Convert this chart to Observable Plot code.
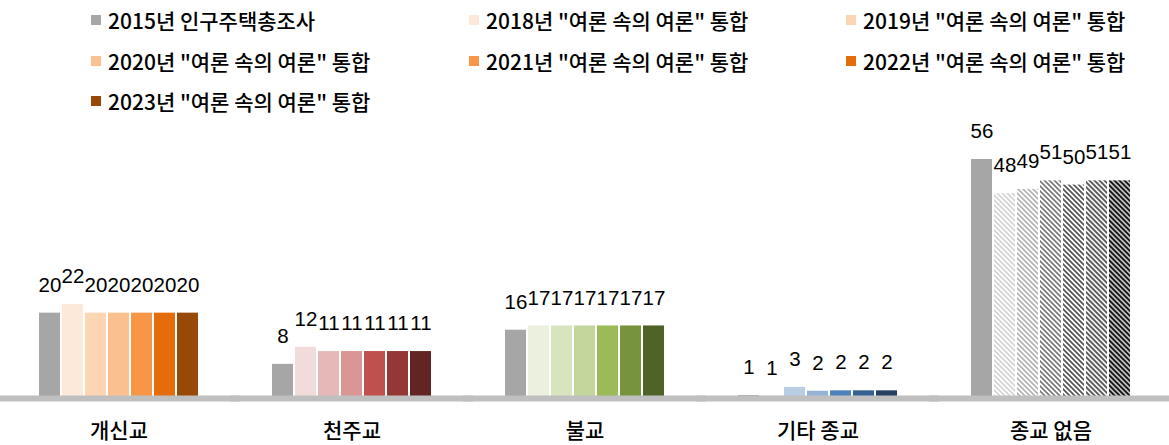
<!DOCTYPE html>
<html><head><meta charset="utf-8">
<script src="https://cdn.jsdelivr.net/npm/d3@7"></script>
<script src="https://cdn.jsdelivr.net/npm/@observablehq/plot@0.6"></script>
<style>
body{margin:0;background:#fff;font-family:"Noto Sans CJK KR","Noto Sans",sans-serif;}
#legend{display:grid;grid-template-columns:378px 377px 300px;padding-left:91px;height:120px;}
.item{display:flex;align-items:center;height:40.5px;font-size:21px;font-weight:500;color:#000;white-space:nowrap;}
.sw{width:10px;height:10px;margin-right:7px;flex:none;}
</style></head><body>
<div id="legend"></div><div id="chart"></div>
<script>
const categories = ["개신교", "천주교", "불교", "기타 종교", "종교 없음"];
const series = [
  "2015년 인구주택총조사",
  "2018년 \"여론 속의 여론\" 통합",
  "2019년 \"여론 속의 여론\" 통합",
  "2020년 \"여론 속의 여론\" 통합",
  "2021년 \"여론 속의 여론\" 통합",
  "2022년 \"여론 속의 여론\" 통합",
  "2023년 \"여론 속의 여론\" 통합"
];
const protestant = [20, 22, 20, 20, 20, 20, 20];
const catholic   = [8, 12, 11, 11, 11, 11, 11];
const buddhist   = [16, 17, 17, 17, 17, 17, 17];
const otherRel   = [0.7, 0.6, 2.6, 1.7, 1.8, 1.8, 1.8];
const noRel      = [56, 48, 49, 51, 50, 51, 51];
const valuesByCategory = [protestant, catholic, buddhist, otherRel, noRel];

// palettes (styles)
const legendColors = ["#a6a6a6", "#fde9d9", "#fcd5b5", "#fac090", "#f79646", "#e46c0a", "#984807"];
const palettes = [
  ["#a6a6a6", "#fde9d9", "#fcd5b5", "#fac090", "#f79646", "#e46c0a", "#984807"],
  ["#a6a6a6", "#f2dcdb", "#e6b9b8", "#d99694", "#c0504d", "#953735", "#632523"],
  ["#a6a6a6", "#ebf1de", "#d7e4bd", "#c3d69b", "#9bbb59", "#77933c", "#4f6228"],
  ["#a6a6a6", "#dce6f2", "#b9cde5", "#95b3d7", "#4f81bd", "#376092", "#254061"],
  ["#a6a6a6", "url(#h1)", "url(#h2)", "url(#h3)", "url(#h4)", "url(#h5)", "url(#h6)"]
];
const hatches = [
  {id: "h1", bg: "#ffffff", fg: "#d4d4d4"},
  {id: "h2", bg: "#ffffff", fg: "#b4b4b4"},
  {id: "h3", bg: "#ffffff", fg: "#7a7a7a"},
  {id: "h4", bg: "#ffffff", fg: "#555555"},
  {id: "h5", bg: "#f2f2f2", fg: "#555555"},
  {id: "h6", bg: "#bfbfbf", fg: "#101010"}
];

// legend
const legend = document.getElementById("legend");
series.forEach((s, j) => {
  const it = document.createElement("div");
  it.className = "item";
  const sw = document.createElement("span");
  sw.className = "sw";
  sw.style.background = legendColors[j];
  const tx = document.createElement("span");
  tx.textContent = s;
  it.appendChild(sw); it.appendChild(tx);
  legend.appendChild(it);
});

const data = [];
categories.forEach((c, i) => series.forEach((s, j) => {
  data.push({category: c, series: s, value: valuesByCategory[i][j], key: c + "|" + s, fillColor: palettes[i][j]});
}));

const chart = Plot.plot({
  width: 1169,
  height: 325,
  marginLeft: 0, marginRight: 0, marginTop: 39, marginBottom: 47,
  style: {background: "transparent", overflow: "visible"},
  fx: {domain: categories, paddingInner: 0.3, paddingOuter: 0.15, label: null},
  x: {domain: series, paddingInner: 0.1, paddingOuter: 0.05, axis: null},
  y: {domain: [0, 56], axis: null},
  color: {domain: data.map(d => d.key), range: data.map(d => d.fillColor)},
  marks: [
    Plot.barY(data, {fx: "category", x: "series", y: "value", fill: "key"}),
    Plot.ruleY([0], {stroke: "#bfbfbf", strokeWidth: 6, insetLeft: -40, insetRight: -40}),
    Plot.text(data, {fx: "category", x: "series", y: "value", text: d => d3.format(".0f")(d.value),
      dy: -28, fontSize: 20.5, fontFamily: "Liberation Sans, Arial, sans-serif", fill: "#000", lineAnchor: "middle"}),
    Plot.axisFx({anchor: "bottom", tickSize: 0, tickPadding: 25, fontSize: 21, fontWeight: 500,
      fontFamily: "Noto Sans CJK KR, sans-serif", fill: "#000", label: null})
  ]
});

const svg = chart.tagName.toLowerCase() === "svg" ? chart : chart.querySelector("svg");
const ns = "http://www.w3.org/2000/svg";
const defs = document.createElementNS(ns, "defs");
hatches.forEach(h => {
  const p = document.createElementNS(ns, "pattern");
  p.setAttribute("id", h.id);
  p.setAttribute("patternUnits", "userSpaceOnUse");
  p.setAttribute("width", "5");
  p.setAttribute("height", "5");
  const r = document.createElementNS(ns, "rect");
  r.setAttribute("width", "5"); r.setAttribute("height", "5"); r.setAttribute("fill", h.bg);
  const path = document.createElementNS(ns, "path");
  path.setAttribute("d", "M-1,-1L6,6M-1,4L1,6M4,-1L6,1");
  path.setAttribute("stroke", h.fg);
  path.setAttribute("stroke-width", "1.7");
  p.appendChild(r); p.appendChild(path);
  defs.appendChild(p);
});
svg.insertBefore(defs, svg.firstChild);
document.getElementById("chart").appendChild(chart);
</script>
</body></html>
